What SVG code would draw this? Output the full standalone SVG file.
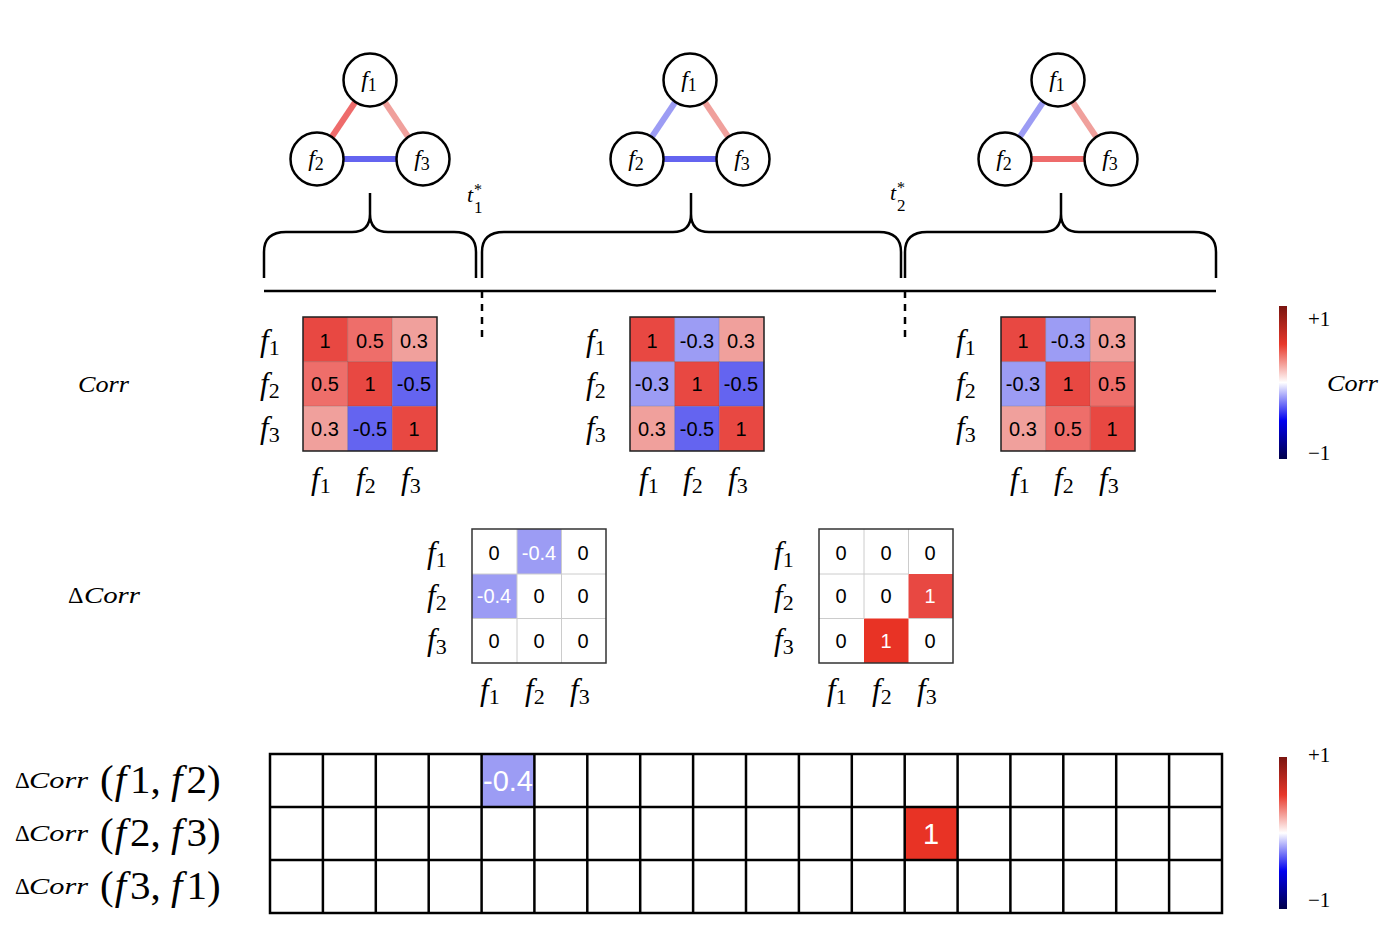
<svg xmlns="http://www.w3.org/2000/svg" width="1388" height="940" viewBox="0 0 1388 940" font-family="Liberation Serif, DejaVu Serif, serif">
<defs>
<style>
.m{fill:#000}
.i{font-style:italic}
.node{fill:#fff;stroke:#000;stroke-width:2.5}
.edge{stroke-width:6;fill:none}
.brace{fill:none;stroke:#000;stroke-width:2.5}
.cellt{font-family:"Liberation Sans",Arial,sans-serif;font-size:20px;text-anchor:middle;fill:#000}
.w{fill:#fff}
.frame{fill:none;stroke:#222;stroke-width:1.5}
.dframe{fill:none;stroke:#333;stroke-width:1.5}
.dgrid{stroke:#ccc;stroke-width:1}
.grid{stroke:#000;stroke-width:2.5;fill:none}
.c1{fill:#e84842}.c05{fill:#ee6e6a}.c03{fill:#f0a09c}.cm03{fill:#9c9cf4}.cm05{fill:#6464f0}.cr{fill:#e83325}
.cell{stroke:rgba(0,0,0,0.12);stroke-width:1}
</style>
<linearGradient id="cb" x1="0" y1="1" x2="0" y2="0">
<stop offset="0" stop-color="#00004a"/>
<stop offset="0.25" stop-color="#0000f0"/>
<stop offset="0.5" stop-color="#ffffff"/>
<stop offset="0.75" stop-color="#e8382a"/>
<stop offset="1" stop-color="#7a1510"/>
</linearGradient>
</defs>
<rect width="1388" height="940" fill="#fff"/>

<!-- connectors: graph edges -->
<g id="connectors">
<line class="edge" x1="370" y1="80" x2="317" y2="159" stroke="#ee6b6b"/>
<line class="edge" x1="370" y1="80" x2="423" y2="159" stroke="#f0a09c"/>
<line class="edge" x1="317" y1="159" x2="423" y2="159" stroke="#6464f0"/>
<line class="edge" x1="690" y1="80" x2="637" y2="159" stroke="#9c9cf4"/>
<line class="edge" x1="690" y1="80" x2="743" y2="159" stroke="#f0a09c"/>
<line class="edge" x1="637" y1="159" x2="743" y2="159" stroke="#6464f0"/>
<line class="edge" x1="1058" y1="80" x2="1005" y2="159" stroke="#9c9cf4"/>
<line class="edge" x1="1058" y1="80" x2="1111" y2="159" stroke="#f0a09c"/>
<line class="edge" x1="1005" y1="159" x2="1111" y2="159" stroke="#ee6b6b"/>
</g>

<g id="graph1">
<g id="g1f1"><circle class="node" cx="370" cy="80" r="26.5"/><text class="m" x="369" y="87" text-anchor="middle" font-size="24"><tspan class="i">f</tspan><tspan font-size="18" dy="4">1</tspan></text></g>
<g id="g1f2"><circle class="node" cx="317" cy="159" r="26.5"/><text class="m" x="316" y="166" text-anchor="middle" font-size="24"><tspan class="i">f</tspan><tspan font-size="18" dy="4">2</tspan></text></g>
<g id="g1f3"><circle class="node" cx="423" cy="159" r="26.5"/><text class="m" x="422" y="166" text-anchor="middle" font-size="24"><tspan class="i">f</tspan><tspan font-size="18" dy="4">3</tspan></text></g>
</g>
<g id="graph2">
<g id="g2f1"><circle class="node" cx="690" cy="80" r="26.5"/><text class="m" x="689" y="87" text-anchor="middle" font-size="24"><tspan class="i">f</tspan><tspan font-size="18" dy="4">1</tspan></text></g>
<g id="g2f2"><circle class="node" cx="637" cy="159" r="26.5"/><text class="m" x="636" y="166" text-anchor="middle" font-size="24"><tspan class="i">f</tspan><tspan font-size="18" dy="4">2</tspan></text></g>
<g id="g2f3"><circle class="node" cx="743" cy="159" r="26.5"/><text class="m" x="742" y="166" text-anchor="middle" font-size="24"><tspan class="i">f</tspan><tspan font-size="18" dy="4">3</tspan></text></g>
</g>
<g id="graph3">
<g id="g3f1"><circle class="node" cx="1058" cy="80" r="26.5"/><text class="m" x="1057" y="87" text-anchor="middle" font-size="24"><tspan class="i">f</tspan><tspan font-size="18" dy="4">1</tspan></text></g>
<g id="g3f2"><circle class="node" cx="1005" cy="159" r="26.5"/><text class="m" x="1004" y="166" text-anchor="middle" font-size="24"><tspan class="i">f</tspan><tspan font-size="18" dy="4">2</tspan></text></g>
<g id="g3f3"><circle class="node" cx="1111" cy="159" r="26.5"/><text class="m" x="1110" y="166" text-anchor="middle" font-size="24"><tspan class="i">f</tspan><tspan font-size="18" dy="4">3</tspan></text></g>
</g>

<!-- timeline and braces -->
<g id="timeline">
<path class="brace" d="M264 278 L264 252 Q264 232 286 232 L352 232 Q370 232 370 214 L370 193 M370 214 Q370 232 388 232 L454 232 Q476 232 476 252 L476 278"/>
<path class="brace" d="M482 278 L482 252 Q482 232 504 232 L673 232 Q691 232 691 214 L691 193 M691 214 Q691 232 709 232 L879 232 Q901 232 901 252 L901 278"/>
<path class="brace" d="M905 278 L905 252 Q905 232 927 232 L1043 232 Q1061 232 1061 214 L1061 193 M1061 214 Q1061 232 1079 232 L1194 232 Q1216 232 1216 252 L1216 278"/>
<line x1="264" y1="291" x2="1216" y2="291" stroke="#000" stroke-width="2.5"/>
<line x1="482" y1="291" x2="482" y2="340" stroke="#000" stroke-width="2.5" stroke-dasharray="7,6"/>
<line x1="905" y1="291" x2="905" y2="340" stroke="#000" stroke-width="2.5" stroke-dasharray="7,6"/>
<text class="m i" x="467" y="202" font-size="22">t</text>
<text class="m" x="474" y="195" font-size="16">*</text>
<text class="m" x="474" y="213" font-size="17">1</text>
<text class="m i" x="890" y="200" font-size="22">t</text>
<text class="m" x="897" y="193" font-size="16">*</text>
<text class="m" x="897" y="211" font-size="17">2</text>
</g>

<!-- row titles -->
<text class="m i" x="78" y="392" font-size="24" textLength="51" lengthAdjust="spacingAndGlyphs">Corr</text>
<text class="m" x="68" y="603" font-size="24">Δ</text>
<text class="m i" x="84" y="603" font-size="24" textLength="56" lengthAdjust="spacingAndGlyphs">Corr</text>

<!-- Corr matrix 1 -->
<g id="corr1">
<rect class="c1 cell" x="303" y="317" width="44.7" height="44.7"/><rect class="c05 cell" x="347.7" y="317" width="44.6" height="44.7"/><rect class="c03 cell" x="392.3" y="317" width="44.7" height="44.7"/>
<rect class="c05 cell" x="303" y="361.7" width="44.7" height="44.6"/><rect class="c1 cell" x="347.7" y="361.7" width="44.6" height="44.6"/><rect class="cm05 cell" x="392.3" y="361.7" width="44.7" height="44.6"/>
<rect class="c03 cell" x="303" y="406.3" width="44.7" height="44.7"/><rect class="cm05 cell" x="347.7" y="406.3" width="44.6" height="44.7"/><rect class="c1 cell" x="392.3" y="406.3" width="44.7" height="44.7"/>
<rect class="frame" x="303" y="317" width="134" height="134"/>
<text class="cellt" x="325" y="348">1</text><text class="cellt" x="370" y="348">0.5</text><text class="cellt" x="414" y="348">0.3</text>
<text class="cellt" x="325" y="391">0.5</text><text class="cellt" x="370" y="391">1</text><text class="cellt" x="414" y="391">-0.5</text>
<text class="cellt" x="325" y="436">0.3</text><text class="cellt" x="370" y="436">-0.5</text><text class="cellt" x="414" y="436">1</text>
<g font-size="31" class="m">
<text x="260" y="351"><tspan class="i">f</tspan><tspan font-size="22" dy="4">1</tspan></text>
<text x="260" y="394"><tspan class="i">f</tspan><tspan font-size="22" dy="4">2</tspan></text>
<text x="260" y="438"><tspan class="i">f</tspan><tspan font-size="22" dy="4">3</tspan></text>
<text x="311" y="489"><tspan class="i">f</tspan><tspan font-size="22" dy="4">1</tspan></text>
<text x="356" y="489"><tspan class="i">f</tspan><tspan font-size="22" dy="4">2</tspan></text>
<text x="401" y="489"><tspan class="i">f</tspan><tspan font-size="22" dy="4">3</tspan></text>
</g>
</g>

<!-- Corr matrix 2 -->
<g id="corr2">
<rect class="c1 cell" x="630" y="317" width="44.7" height="44.7"/><rect class="cm03 cell" x="674.7" y="317" width="44.6" height="44.7"/><rect class="c03 cell" x="719.3" y="317" width="44.7" height="44.7"/>
<rect class="cm03 cell" x="630" y="361.7" width="44.7" height="44.6"/><rect class="c1 cell" x="674.7" y="361.7" width="44.6" height="44.6"/><rect class="cm05 cell" x="719.3" y="361.7" width="44.7" height="44.6"/>
<rect class="c03 cell" x="630" y="406.3" width="44.7" height="44.7"/><rect class="cm05 cell" x="674.7" y="406.3" width="44.6" height="44.7"/><rect class="c1 cell" x="719.3" y="406.3" width="44.7" height="44.7"/>
<rect class="frame" x="630" y="317" width="134" height="134"/>
<text class="cellt" x="652" y="348">1</text><text class="cellt" x="697" y="348">-0.3</text><text class="cellt" x="741" y="348">0.3</text>
<text class="cellt" x="652" y="391">-0.3</text><text class="cellt" x="697" y="391">1</text><text class="cellt" x="741" y="391">-0.5</text>
<text class="cellt" x="652" y="436">0.3</text><text class="cellt" x="697" y="436">-0.5</text><text class="cellt" x="741" y="436">1</text>
<g font-size="31" class="m">
<text x="586" y="351"><tspan class="i">f</tspan><tspan font-size="22" dy="4">1</tspan></text>
<text x="586" y="394"><tspan class="i">f</tspan><tspan font-size="22" dy="4">2</tspan></text>
<text x="586" y="438"><tspan class="i">f</tspan><tspan font-size="22" dy="4">3</tspan></text>
<text x="639" y="489"><tspan class="i">f</tspan><tspan font-size="22" dy="4">1</tspan></text>
<text x="683" y="489"><tspan class="i">f</tspan><tspan font-size="22" dy="4">2</tspan></text>
<text x="728" y="489"><tspan class="i">f</tspan><tspan font-size="22" dy="4">3</tspan></text>
</g>
</g>

<!-- Corr matrix 3 -->
<g id="corr3">
<rect class="c1 cell" x="1001" y="317" width="44.7" height="44.7"/><rect class="cm03 cell" x="1045.7" y="317" width="44.6" height="44.7"/><rect class="c03 cell" x="1090.3" y="317" width="44.7" height="44.7"/>
<rect class="cm03 cell" x="1001" y="361.7" width="44.7" height="44.6"/><rect class="c1 cell" x="1045.7" y="361.7" width="44.6" height="44.6"/><rect class="c05 cell" x="1090.3" y="361.7" width="44.7" height="44.6"/>
<rect class="c03 cell" x="1001" y="406.3" width="44.7" height="44.7"/><rect class="c05 cell" x="1045.7" y="406.3" width="44.6" height="44.7"/><rect class="c1 cell" x="1090.3" y="406.3" width="44.7" height="44.7"/>
<rect class="frame" x="1001" y="317" width="134" height="134"/>
<text class="cellt" x="1023" y="348">1</text><text class="cellt" x="1068" y="348">-0.3</text><text class="cellt" x="1112" y="348">0.3</text>
<text class="cellt" x="1023" y="391">-0.3</text><text class="cellt" x="1068" y="391">1</text><text class="cellt" x="1112" y="391">0.5</text>
<text class="cellt" x="1023" y="436">0.3</text><text class="cellt" x="1068" y="436">0.5</text><text class="cellt" x="1112" y="436">1</text>
<g font-size="31" class="m">
<text x="956" y="351"><tspan class="i">f</tspan><tspan font-size="22" dy="4">1</tspan></text>
<text x="956" y="394"><tspan class="i">f</tspan><tspan font-size="22" dy="4">2</tspan></text>
<text x="956" y="438"><tspan class="i">f</tspan><tspan font-size="22" dy="4">3</tspan></text>
<text x="1010" y="489"><tspan class="i">f</tspan><tspan font-size="22" dy="4">1</tspan></text>
<text x="1054" y="489"><tspan class="i">f</tspan><tspan font-size="22" dy="4">2</tspan></text>
<text x="1099" y="489"><tspan class="i">f</tspan><tspan font-size="22" dy="4">3</tspan></text>
</g>
</g>

<!-- top colorbar -->
<g id="colorbar1">
<rect x="1279" y="306" width="8" height="153" fill="url(#cb)"/>
<text class="m" x="1308" y="326" font-size="21">+1</text>
<text class="m" x="1308" y="460" font-size="21">−1</text>
<text class="m i" x="1327" y="391" font-size="24" textLength="51" lengthAdjust="spacingAndGlyphs">Corr</text>
</g>

<!-- Delta matrix 1 -->
<g id="dcorr1">
<rect x="472" y="529" width="134" height="134" fill="#fff"/>
<rect class="cm03" x="517" y="529" width="44.5" height="45"/>
<rect class="cm03" x="472" y="574" width="45" height="44.5"/>
<line class="dgrid" x1="517" y1="529" x2="517" y2="663"/><line class="dgrid" x1="561.5" y1="529" x2="561.5" y2="663"/>
<line class="dgrid" x1="472" y1="574" x2="606" y2="574"/><line class="dgrid" x1="472" y1="618.5" x2="606" y2="618.5"/>
<rect class="dframe" x="472" y="529" width="134" height="134"/>
<text class="cellt" x="494" y="560">0</text><text class="cellt w" x="539" y="560">-0.4</text><text class="cellt" x="583" y="560">0</text>
<text class="cellt w" x="494" y="603">-0.4</text><text class="cellt" x="539" y="603">0</text><text class="cellt" x="583" y="603">0</text>
<text class="cellt" x="494" y="648">0</text><text class="cellt" x="539" y="648">0</text><text class="cellt" x="583" y="648">0</text>
<g font-size="31" class="m">
<text x="427" y="563"><tspan class="i">f</tspan><tspan font-size="22" dy="4">1</tspan></text>
<text x="427" y="606"><tspan class="i">f</tspan><tspan font-size="22" dy="4">2</tspan></text>
<text x="427" y="650"><tspan class="i">f</tspan><tspan font-size="22" dy="4">3</tspan></text>
<text x="480" y="700"><tspan class="i">f</tspan><tspan font-size="22" dy="4">1</tspan></text>
<text x="525" y="700"><tspan class="i">f</tspan><tspan font-size="22" dy="4">2</tspan></text>
<text x="570" y="700"><tspan class="i">f</tspan><tspan font-size="22" dy="4">3</tspan></text>
</g>
</g>

<!-- Delta matrix 2 -->
<g id="dcorr2">
<rect x="819" y="529" width="134" height="134" fill="#fff"/>
<rect class="c1" x="908.5" y="574" width="44.5" height="44.5"/>
<rect class="cr" x="864" y="618.5" width="44.5" height="44.5"/>
<line class="dgrid" x1="864" y1="529" x2="864" y2="618.5"/><line class="dgrid" x1="908.5" y1="529" x2="908.5" y2="574"/>
<line class="dgrid" x1="819" y1="574" x2="908.5" y2="574"/><line class="dgrid" x1="819" y1="618.5" x2="864" y2="618.5"/>
<line class="dgrid" x1="908.5" y1="618.5" x2="953" y2="618.5"/>
<rect class="dframe" x="819" y="529" width="134" height="134"/>
<text class="cellt" x="841" y="560">0</text><text class="cellt" x="886" y="560">0</text><text class="cellt" x="930" y="560">0</text>
<text class="cellt" x="841" y="603">0</text><text class="cellt" x="886" y="603">0</text><text class="cellt w" x="930" y="603">1</text>
<text class="cellt" x="841" y="648">0</text><text class="cellt w" x="886" y="648">1</text><text class="cellt" x="930" y="648">0</text>
<g font-size="31" class="m">
<text x="774" y="563"><tspan class="i">f</tspan><tspan font-size="22" dy="4">1</tspan></text>
<text x="774" y="606"><tspan class="i">f</tspan><tspan font-size="22" dy="4">2</tspan></text>
<text x="774" y="650"><tspan class="i">f</tspan><tspan font-size="22" dy="4">3</tspan></text>
<text x="827" y="700"><tspan class="i">f</tspan><tspan font-size="22" dy="4">1</tspan></text>
<text x="872" y="700"><tspan class="i">f</tspan><tspan font-size="22" dy="4">2</tspan></text>
<text x="917" y="700"><tspan class="i">f</tspan><tspan font-size="22" dy="4">3</tspan></text>
</g>
</g>

<!-- bottom grid -->
<g id="deltagrid">
<rect x="481.6" y="754" width="52.9" height="53" fill="#9c9cf4"/>
<rect x="904.9" y="807" width="52.9" height="53" fill="#e83325"/>
<text x="508" y="791" font-family="Liberation Sans,Arial,sans-serif" font-size="29" text-anchor="middle" fill="#fff">-0.4</text>
<text x="931" y="844" font-family="Liberation Sans,Arial,sans-serif" font-size="29" text-anchor="middle" fill="#fff">1</text>
<path class="grid" d="M270 807H1222M270 860H1222M322.9 754V913M375.8 754V913M428.7 754V913M481.6 754V913M534.4 754V913M587.3 754V913M640.2 754V913M693.1 754V913M746 754V913M798.9 754V913M851.8 754V913M904.7 754V913M957.6 754V913M1010.4 754V913M1063.3 754V913M1116.2 754V913M1169.1 754V913"/>
<rect class="grid" x="270" y="754" width="952" height="159"/>
</g>

<!-- bottom row labels -->
<g id="rowlabels" class="m">
<g>
<text x="15" y="788" font-size="23">Δ</text><text class="i" x="29" y="788" font-size="23" textLength="59" lengthAdjust="spacingAndGlyphs">Corr</text>
<text x="100" y="793" font-size="41">(<tspan class="i" dx="1">f</tspan><tspan dx="4">1, </tspan><tspan class="i">f</tspan><tspan dx="4">2)</tspan></text>
</g>
<g>
<text x="15" y="841" font-size="23">Δ</text><text class="i" x="29" y="841" font-size="23" textLength="59" lengthAdjust="spacingAndGlyphs">Corr</text>
<text x="100" y="846" font-size="41">(<tspan class="i" dx="1">f</tspan><tspan dx="4">2, </tspan><tspan class="i">f</tspan><tspan dx="4">3)</tspan></text>
</g>
<g>
<text x="15" y="894" font-size="23">Δ</text><text class="i" x="29" y="894" font-size="23" textLength="59" lengthAdjust="spacingAndGlyphs">Corr</text>
<text x="100" y="899" font-size="41">(<tspan class="i" dx="1">f</tspan><tspan dx="4">3, </tspan><tspan class="i">f</tspan><tspan dx="4">1)</tspan></text>
</g>
</g>

<!-- bottom colorbar -->
<g id="colorbar2">
<rect x="1279" y="757" width="8" height="152" fill="url(#cb)"/>
<text class="m" x="1308" y="762" font-size="21">+1</text>
<text class="m" x="1308" y="907" font-size="21">−1</text>
</g>
</svg>
